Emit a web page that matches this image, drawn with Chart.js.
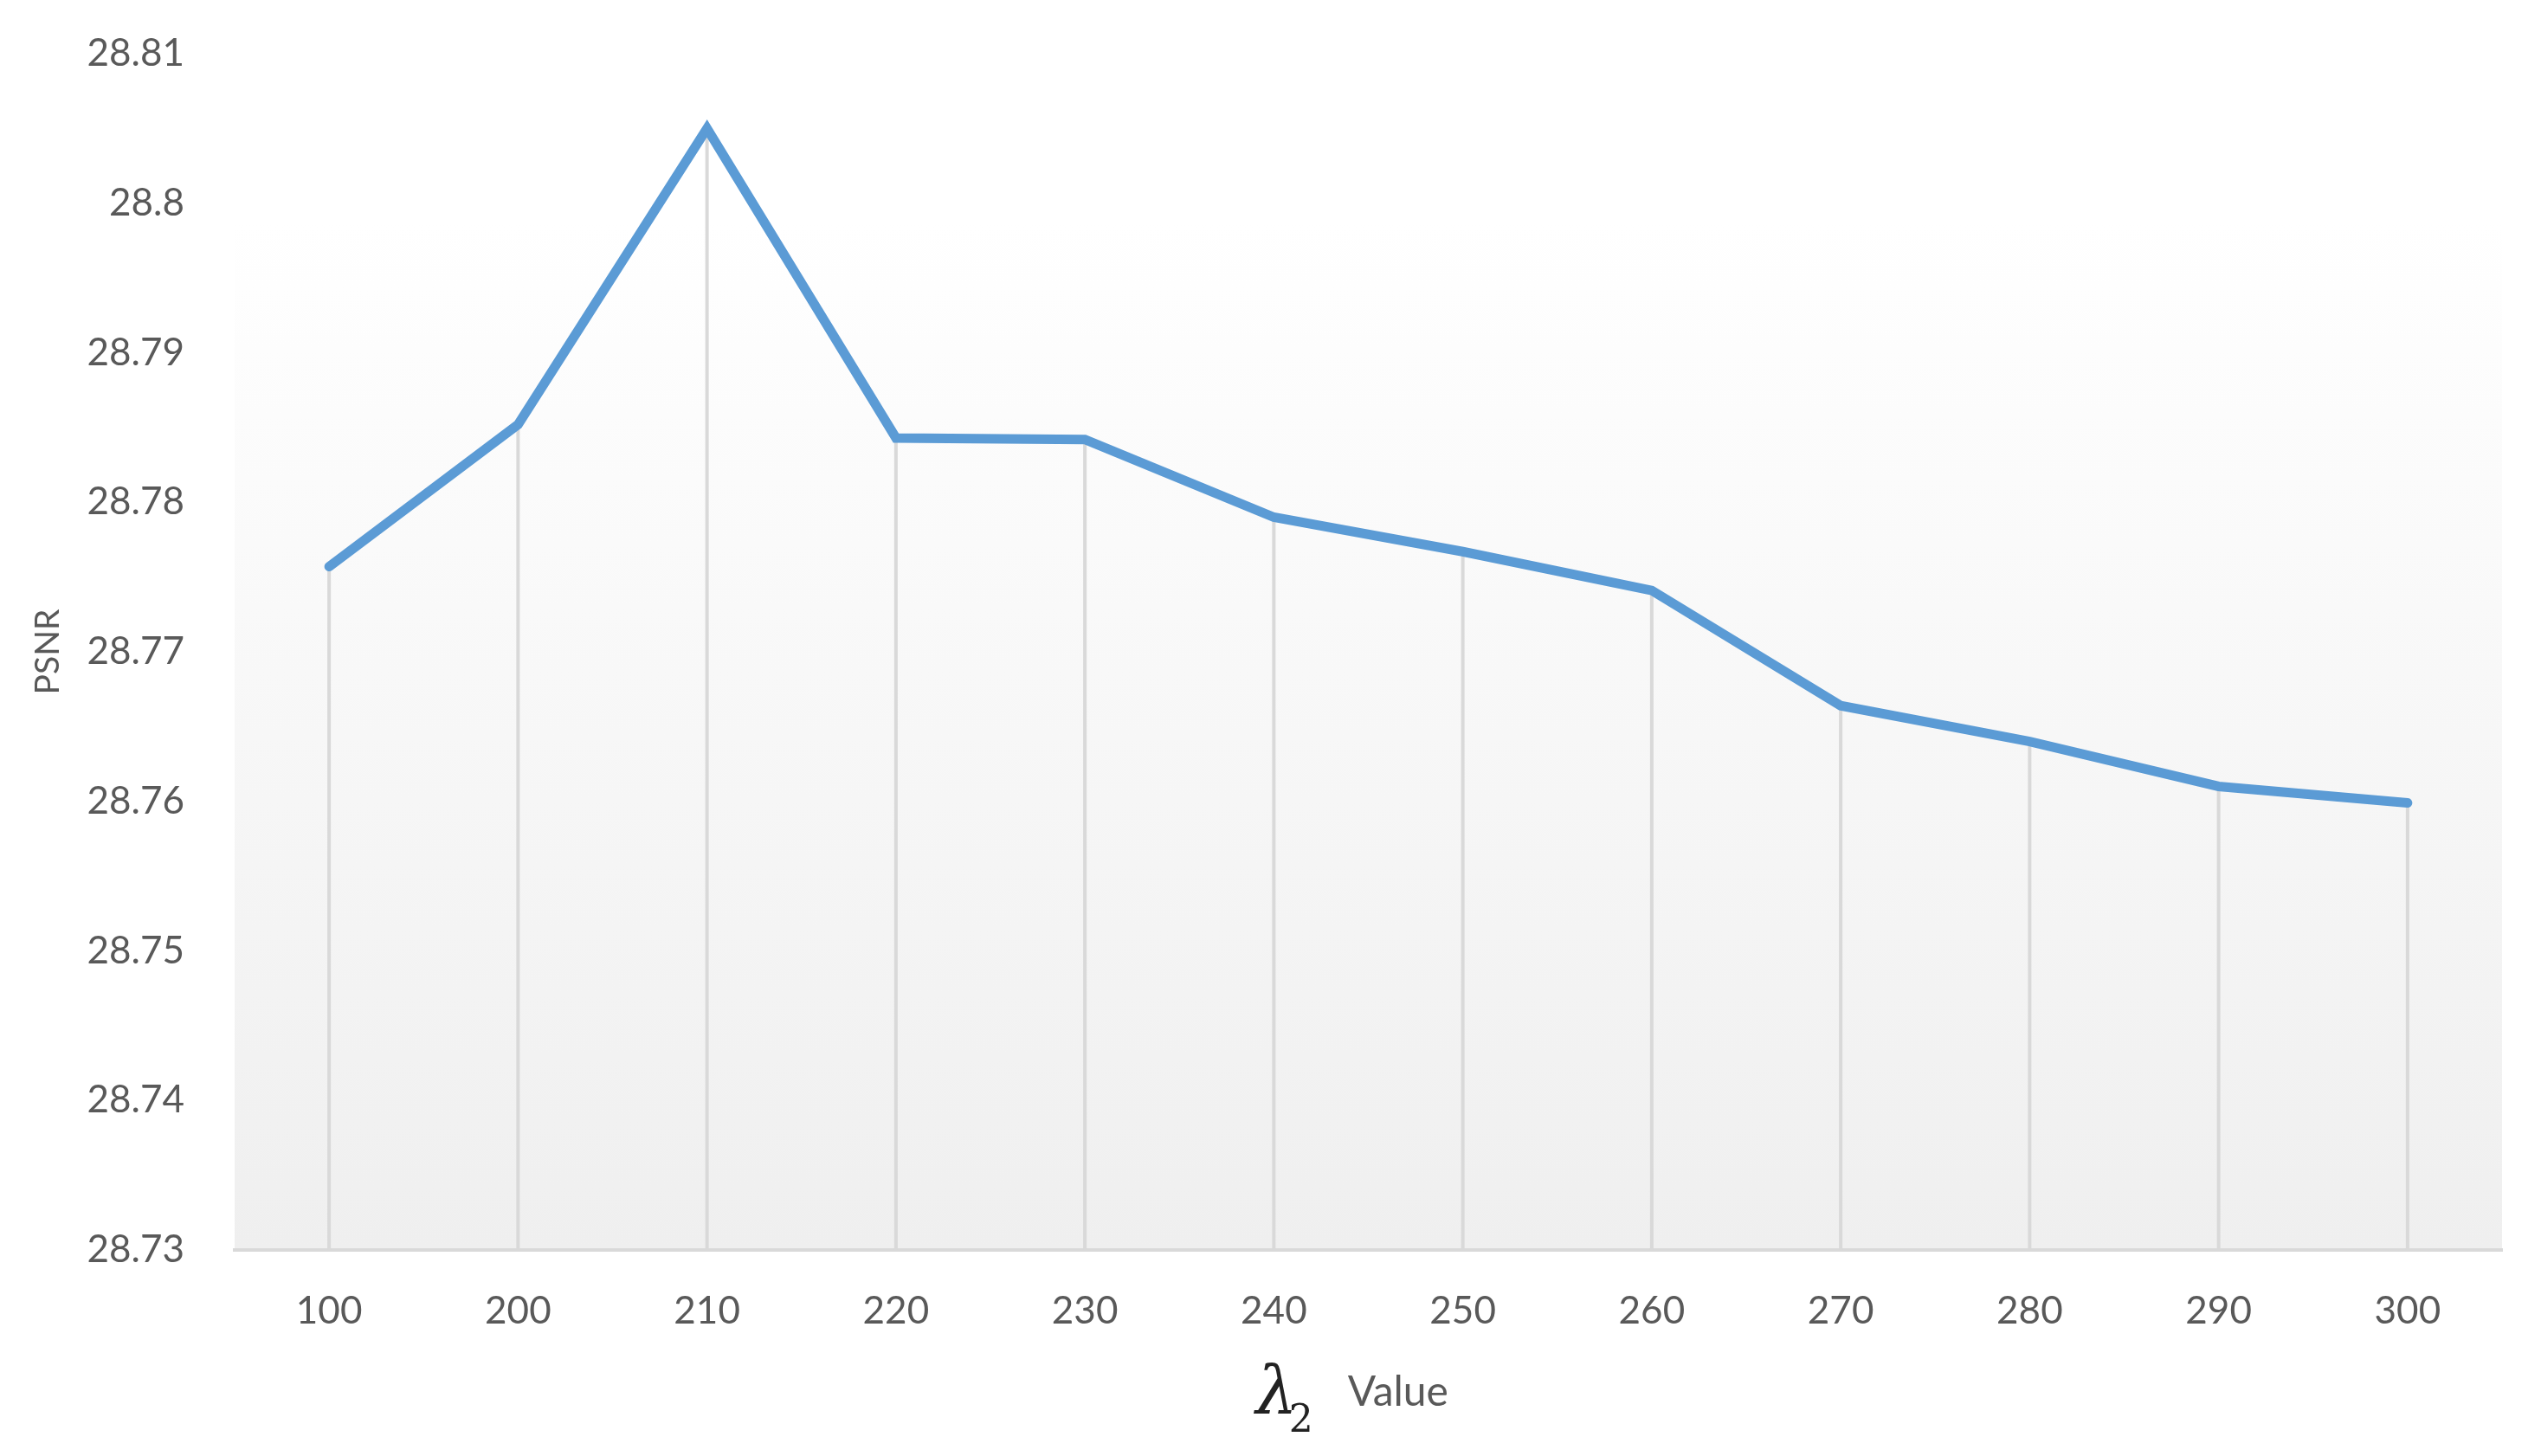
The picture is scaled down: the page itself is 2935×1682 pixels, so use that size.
<!DOCTYPE html>
<html lang="en">
<head>
    <meta charset="UTF-8">
    <title>PSNR vs lambda2</title>
    <script src="https://cdn.jsdelivr.net/npm/chart.js"></script>
    <style>
        html, body {
            margin: 0;
            padding: 0;
            background: #fff;
        }
        #psnrChart {
            display: block;
        }
    </style>
</head>
<body>
    <canvas id="psnrChart" width="2935" height="1682"></canvas>
    <script>
        // values
        const lambdaValues = ['100', '200', '210', '220', '230', '240', '250', '260', '270', '280', '290', '300'];
        const psnrValues = [28.7757, 28.7852, 28.8050, 28.7843, 28.7842, 28.7790, 28.7767, 28.7741, 28.7664, 28.7640, 28.7610, 28.7599];
        const yMin = 28.73;
        const yMax = 28.81;
        const yStep = 0.01;

        const textColor = '#595959';
        const fontFamily = 'Lato, "Open Sans", sans-serif';

        // plot area background: white fading to light grey
        const plotBackground = {
            id: 'plotBackground',
            beforeDraw(chart) {
                const { ctx, chartArea: a } = chart;
                const g = ctx.createLinearGradient(0, a.top, 0, a.bottom);
                g.addColorStop(0, '#ffffff');
                g.addColorStop(0.14, '#ffffff');
                g.addColorStop(1, '#efefef');
                ctx.save();
                ctx.fillStyle = g;
                ctx.fillRect(a.left, a.top, a.right - a.left, a.bottom - a.top);
                ctx.restore();
            }
        };

        // vertical drop lines from each point down to the x axis
        const dropLines = {
            id: 'dropLines',
            beforeDatasetsDraw(chart) {
                const { ctx, chartArea: a } = chart;
                const meta = chart.getDatasetMeta(0);
                ctx.save();
                ctx.strokeStyle = '#d9d9d9';
                ctx.lineWidth = 4;
                meta.data.forEach(pt => {
                    ctx.beginPath();
                    ctx.moveTo(pt.x, pt.y);
                    ctx.lineTo(pt.x, a.bottom);
                    ctx.stroke();
                });
                ctx.restore();
            }
        };

        // x axis title with an italic lambda and subscript 2
        const xTitle = {
            id: 'xTitle',
            afterDraw(chart) {
                const { ctx, chartArea: a } = chart;
                const cx = (a.left + a.right) / 2;
                const y = chart.height - 58;
                ctx.save();
                ctx.fillStyle = '#222';
                ctx.textBaseline = 'alphabetic';
                ctx.font = 'italic 76px "DejaVu Serif", serif';
                const lw = ctx.measureText('λ').width;
                const x0 = cx - 130;
                ctx.fillText('λ', x0, y + 8);
                ctx.font = '44px "DejaVu Serif", serif';
                ctx.fillText('2', x0 + lw - 10, y + 30);
                ctx.fillStyle = textColor;
                ctx.font = '48px ' + fontFamily;
                ctx.fillText('Value', x0 + lw + 58, y);
                ctx.restore();
            }
        };

        new Chart(document.getElementById('psnrChart'), {
            type: 'line',
            data: {
                labels: lambdaValues,
                datasets: [{
                    label: 'PSNR',
                    data: psnrValues,
                    borderColor: '#5b9bd5',
                    borderWidth: 11,
                    borderJoinStyle: 'miter',
                    borderCapStyle: 'round',
                    pointRadius: 0,
                    tension: 0,
                    fill: false
                }]
            },
            options: {
                responsive: false,
                devicePixelRatio: 1,
                animation: false,
                layout: {
                    padding: { top: 62, right: 45, bottom: 0, left: 28 }
                },
                plugins: {
                    legend: { display: false },
                    tooltip: { enabled: false }
                },
                scales: {
                    x: {
                        offset: true,
                        grid: { display: false },
                        border: { display: true, color: '#d9d9d9', width: 4 },
                        ticks: {
                            color: textColor,
                            font: { family: fontFamily, size: 44 },
                            padding: 36
                        },
                        afterFit(scale) {
                            scale.height = 238;
                        }
                    },
                    y: {
                        min: yMin,
                        max: yMax,
                        grid: { display: false },
                        border: { display: false },
                        ticks: {
                            stepSize: yStep,
                            color: textColor,
                            font: { family: fontFamily, size: 44 },
                            padding: 50,
                            callback: v => String(parseFloat(v.toFixed(2)))
                        },
                        title: {
                            display: true,
                            text: 'PSNR',
                            color: textColor,
                            font: { family: fontFamily, size: 39 }
                        },
                        afterFit(scale) {
                            scale.width = 243;
                            // tick padding would otherwise push the plot top down
                            scale.paddingTop = 30;
                            scale.paddingBottom = 30;
                        }
                    }
                }
            },
            plugins: [plotBackground, dropLines, xTitle]
        });
    </script>
</body>
</html>
